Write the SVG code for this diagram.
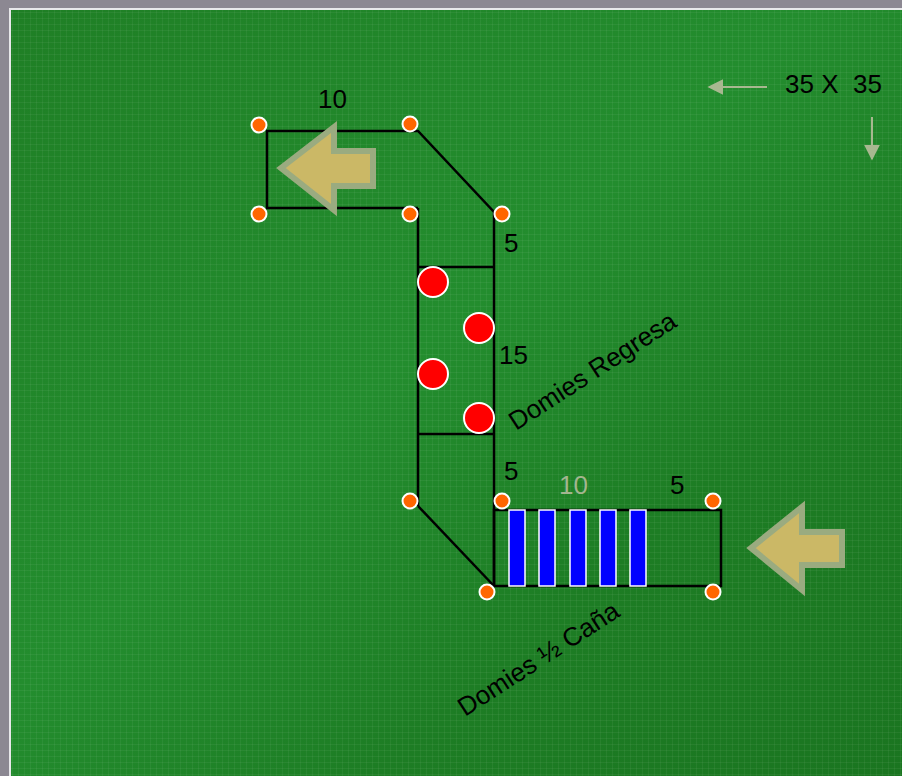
<svg xmlns="http://www.w3.org/2000/svg" width="902" height="776" viewBox="0 0 902 776">
<defs>
<linearGradient id="bg" x1="0" y1="0" x2="1" y2="1">
<stop offset="0" stop-color="#1f7f25"/>
<stop offset="0.45" stop-color="#238d2e"/>
<stop offset="0.7" stop-color="#1d7d24"/>
<stop offset="1" stop-color="#1a7520"/>
</linearGradient>
<pattern id="grid" width="6" height="6" patternUnits="userSpaceOnUse">
<rect width="6" height="6" fill="none"/>
<rect x="0" y="0" width="1" height="6" fill="#ffffff" opacity="0.05"/>
<rect x="0" y="0" width="6" height="1" fill="#ffffff" opacity="0.05"/>
</pattern>
<marker id="ah" viewBox="0 0 10 10" refX="9" refY="5" markerWidth="8" markerHeight="8" orient="auto">
<path d="M0,0 L10,5 L0,10 z" fill="#a8b890"/>
</marker>
</defs>
<style>
.ln{stroke:#000;stroke-width:2.5;fill:none}
.dot{fill:#ff6600;stroke:#fff;stroke-width:2}
.red{fill:#ff0000;stroke:#fff;stroke-width:2}
.bar{fill:#0000ff;stroke:#fff;stroke-width:1.5}
.arr{fill:#cbb866;stroke:#9aab80;stroke-width:6;stroke-linejoin:miter}
.t{font-family:"Liberation Sans",Arial,sans-serif;font-size:26px;fill:#000;white-space:pre}
.ptr{stroke:#a8b890;stroke-width:2;fill:none}
</style>
<rect width="902" height="776" fill="#8c8892"/>
<rect x="9" y="8" width="893" height="768" fill="#e8e8ea"/>
<rect x="11" y="10" width="891" height="766" fill="url(#bg)"/>
<rect x="11" y="10" width="891" height="766" fill="url(#grid)"/>

<g id="connectors">
<polyline class="ln" points="418,208 267,208 267,131 418,131 494,212 494,586"/>
<line class="ln" x1="418" y1="208" x2="418" y2="506"/>
<line class="ln" x1="418" y1="506" x2="494" y2="586"/>
<line class="ln" x1="418" y1="267" x2="494" y2="267"/>
<line class="ln" x1="418" y1="434" x2="494" y2="434"/>
<rect class="ln" x="494" y="510" width="227" height="76"/>
</g>

<g id="bars">
<rect class="bar" x="509" y="510" width="16" height="76"/>
<rect class="bar" x="539" y="510" width="16" height="76"/>
<rect class="bar" x="570" y="510" width="16" height="76"/>
<rect class="bar" x="600" y="510" width="16" height="76"/>
<rect class="bar" x="630" y="510" width="16" height="76"/>
</g>

<g id="arrow-left">
<polygon class="arr" points="281,168 334,127 334,151 373,151 373,186 334,186 334,210"/>
</g>
<g id="arrow-right">
<polygon class="arr" points="751,548 802,507 802,532 842,532 842,565 802,565 802,590"/>
</g>

<g id="domies">
<circle class="red" cx="433" cy="282" r="15"/>
<circle class="red" cx="479" cy="328" r="15"/>
<circle class="red" cx="433" cy="374" r="15"/>
<circle class="red" cx="479" cy="418" r="15"/>
</g>

<g id="cones">
<circle class="dot" cx="259" cy="125" r="7.5"/>
<circle class="dot" cx="410" cy="124" r="7.5"/>
<circle class="dot" cx="259" cy="214" r="7.5"/>
<circle class="dot" cx="410" cy="214" r="7.5"/>
<circle class="dot" cx="502" cy="214" r="7.5"/>
<circle class="dot" cx="410" cy="501" r="7.5"/>
<circle class="dot" cx="502" cy="501" r="7.5"/>
<circle class="dot" cx="487" cy="592" r="7.5"/>
<circle class="dot" cx="713" cy="501" r="7.5"/>
<circle class="dot" cx="713" cy="592" r="7.5"/>
</g>

<g id="labels">
<text class="t" x="318" y="108">10</text>
<text class="t" x="504" y="252">5</text>
<text class="t" x="499" y="364">15</text>
<text class="t" x="504" y="480">5</text>
<text class="t" x="559" y="494" style="fill:#a3b58f">10</text>
<text class="t" x="670" y="494">5</text>
<text class="t" x="785" y="93" xml:space="preserve">35 X  35</text>
<text class="t" transform="translate(516,431) rotate(-33)">Domies Regresa</text>
<text class="t" transform="translate(465,717) rotate(-33)">Domies ½ Caña</text>
</g>

<g id="size-arrows">
<line class="ptr" x1="767" y1="87" x2="709" y2="87" marker-end="url(#ah)"/>
<line class="ptr" x1="872" y1="117" x2="872" y2="159" marker-end="url(#ah)"/>
</g>
</svg>
